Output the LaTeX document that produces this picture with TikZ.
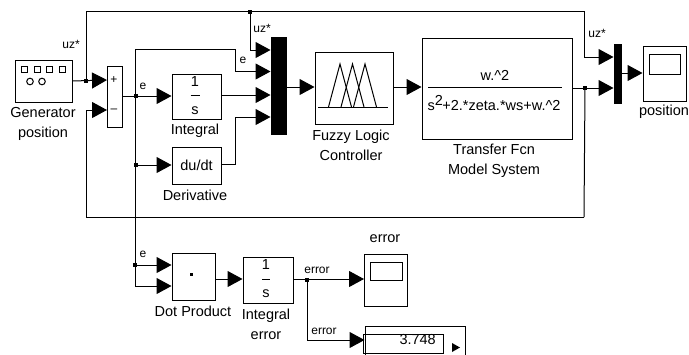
\documentclass[tikz,border=0pt]{standalone}
\usepackage{fontspec}
\setmainfont{Liberation Sans}
\usepackage{tikz}
\usetikzlibrary{arrows.meta,positioning,calc}

\begin{document}
\begin{tikzpicture}[
  x=1pt, y=-1pt,
  block/.style={draw, line width=1pt, inner sep=0pt, font=\fontsize{14.5}{15}\selectfont, align=center},
  glyph/.style={font=\fontsize{14.5}{15}\selectfont, inner sep=0pt},
  muxbar/.style={draw, fill=black, inner sep=0pt},
  label/.style={font=\fontsize{14.5}{20}\selectfont, align=center, inner sep=0pt},
  sig/.style={font=\fontsize{12}{13}\selectfont, inner sep=0pt},
  wire/.style={-{Triangle[length=15pt,width=16pt]}, line width=1pt},
  line/.style={line width=1pt},
  junction/.style={fill=black, inner sep=0pt, minimum size=4pt}
]
  \useasboundingbox (0,0) rectangle (689,354);

  % Source
  \node[block, minimum width=57pt, minimum height=42pt] (gen) at (43.5,81) {};
  \foreach \x in {24,37,49,62} {
    \draw[line] (\x-3,66) rectangle (\x+3,72);
  }
  \foreach \x in {30,42} {
    \draw[line] (\x,81.5) circle (3.3);
  }
  \node[label] (genlab) at (43,124) {Generator\\position};
  \node[sig] (uzgen) at (71,44) {uz*};

  % Sum
  \node[block, minimum width=15pt, minimum height=61pt] (sum) at (114.5,96.5) {};
  \node[font=\fontsize{12}{12}\selectfont, inner sep=0pt] (plus) at (114,80) {+};
  \node[font=\fontsize{12}{12}\selectfont, inner sep=0pt] (minus) at (114,110.5) {–};

  % Integral and derivative
  \node[block, minimum width=49pt, minimum height=45pt] (int) at (196.5,96.5) {};
  \node[glyph] (intn) at (195,82) {1};
  \node[glyph] (intd) at (195,111) {s};
  \draw[line] (190.5,95) -- (200,95);
  \node[label] (intlab) at (195,131) {Integral};
  \node[block, minimum width=49pt, minimum height=37pt] (der) at (196.5,165.5) {du/dt};
  \node[label] (derlab) at (195,195) {Derivative};

  % Mux
  \node[muxbar, minimum width=15pt, minimum height=97pt] (mux) at (279,85.5) {};

  % Fuzzy block
  \node[block, minimum width=78pt, minimum height=72pt] (fuzzy) at (354,88) {};
  \draw[line] (318,107) -- (388,107);
  \foreach \a in {340,352.5,365} {
    \draw[line] (\a-11.5,107) -- (\a,64) -- (\a+11.5,107);
  }
  \node[label] (fuzzylab) at (351,145.5) {Fuzzy Logic\\Controller};

  % Plant
  \node[block, minimum width=150pt, minimum height=101pt] (tf) at (497,88.5) {};
  \node[glyph] (tfn) at (495,75) {w.\^{}2};
  \draw[line] (428,87.5) -- (562,87.5);
  \node[glyph] (tfd) at (494,103) {s\textsuperscript{\fontsize{14.5}{15}\selectfont 2}\kern-1pt+2.*zeta.*ws+w.\^{}2};
  \node[label] (tflab) at (494,161) {Transfer Fcn\\Model System};

  % Output scope
  \node[muxbar, minimum width=7pt, minimum height=59pt] (muxb) at (618,73.5) {};
  \node[block, minimum width=43pt, minimum height=55pt] (scope) at (664.5,73.5) {};
  \draw[line] (649,54) rectangle (680,74);
  \node[label] (scopelab) at (664,112) {position};
  \node[sig] (uzb) at (597,33) {uz*};

  % Error chain
  \node[block, minimum width=43pt, minimum height=47pt] (dot) at (193.5,276.5) {};
  \node[junction, minimum size=3pt] (dotmark) at (191,274) {};
  \node[label] (dotlab) at (193,311) {Dot Product};
  \node[block, minimum width=50pt, minimum height=46pt] (ierr) at (268,280) {};
  \node[glyph] (ierrn) at (266,265) {1};
  \node[glyph] (ierrd) at (266,294) {s};
  \draw[line] (262,279) -- (270,279);
  \node[label] (ierrlab) at (266,324) {Integral\\error};
  \node[block, minimum width=43pt, minimum height=52pt] (escope) at (386,280) {};
  \draw[line] (370,262) rectangle (402,280);
  \node[label] (escopelab) at (385,239) {error};

  % Display
  \node[block, minimum width=100pt, minimum height=30pt] (disp) at (415,341) {};
  \node[draw, line width=1pt, inner sep=0pt, minimum width=80pt, minimum height=19pt] (dispin) at (403.5,343.5) {};
  \node[glyph, anchor=east] (dispval) at (436,340) {3.748};
  \fill (452,343) -- (460,347.5) -- (452,352) -- cycle;

  % Junctions
  \node[junction] (jgen) at (86,81) {};
  \node[junction] (jtop) at (250,12) {};
  \node[junction] (je) at (136,96) {};
  \node[junction] (jder) at (136,165) {};
  \node[junction] (jtf) at (585,88) {};
  \node[junction] (jdot) at (135,265) {};
  \node[junction] (jerr) at (307,280) {};

  % Bends
  \coordinate (corTL) at (86,11);
  \coordinate (corTR) at (584,11);
  \coordinate (corBL) at (86,217);
  \coordinate (corBR) at (584,217);
  \coordinate (eTop) at (135,49.5);
  \coordinate (eBot) at (135,286);

  % Wires
  \draw[wire] (gen.east |- jgen) -- (107,80);
  \draw[line] (corBR) -- (jtf.center);
  \draw[line] (jgen.center) -- (corTL);
  \draw[wire] (corTL) -- (corTR) -- (584,57) -- (613.5,57);
  \draw[wire] (jtop.center) -- (250,50) -- (270.5,50);
  \draw[wire] (corBR) -- (corBL) -- (86,110) -- (107,110);
  \draw[line] (sum.east |- je) -- (je.center);
  \draw[wire] (je.center) -- (int.west |- je);
  \draw[wire] (jder.center) -- (der.west |- jder);
  \draw[line] (eTop) -- (eBot);
  \draw[wire] (eTop) -- (235,49.5) -- (235,71.5) -- (270.5,71.5);
  \draw[wire] (int.east |- 0,95) -- (270.5,95);
  \draw[wire] (der.east |- 0,164) -- (235,164) -- (235,117) -- (270.5,117);
  \draw[wire] (mux.east |- 0,87) -- (fuzzy.west |- 0,87);
  \draw[wire] (fuzzy.east |- 0,87) -- (tf.west |- 0,87);
  \draw[wire] (tf.east |- jtf) -- (613.5,88);
  \draw[wire] (muxb.east |- 0,73) -- (scope.west |- 0,73);
  \draw[wire] (jdot.center) -- (dot.west |- jdot);
  \draw[wire] (eBot) -- (dot.west |- eBot);
  \draw[wire] (dot.east |- 0,279) -- (ierr.west |- 0,279);
  \draw[wire] (ierr.east |- 0,279) -- (escope.west |- 0,279);
  \draw[wire] (jerr.center) -- (307,340) -- (disp.west |- 0,340);

  % Signal labels
  \node[sig] (uzmux) at (262,28) {uz*};
  \node[sig] (esum) at (143,86) {e};
  \node[sig] (emux) at (243,60) {e};
  \node[sig] (edot) at (143,254) {e};
  \node[sig] (errup) at (317,270) {error};
  \node[sig] (errdn) at (324,331) {error};
\end{tikzpicture}
\end{document}
